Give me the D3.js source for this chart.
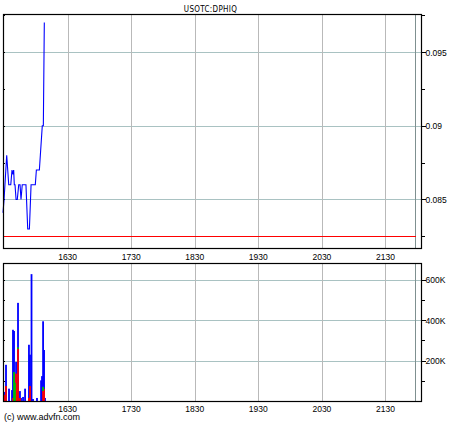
<!DOCTYPE html>
<html>
<head>
<meta charset="utf-8">
<script src="https://cdn.jsdelivr.net/npm/d3@7"></script>
<style>
  body { margin: 0; background: #fff; }
  text { font-family: "Liberation Sans", Arial, sans-serif; fill: #000; }
</style>
</head>
<body>
<div id="chart"></div>
<script>
// chart data
const symbol = "USOTC:DPHIQ";
const prevClose = 0.0825;

const priceTimes = ["15:29:00","15:30:00","15:32:30","15:34:25","15:36:20","15:37:30","15:38:25",
  "15:39:05","15:39:40","15:40:20","15:41:20","15:42:30","15:43:50","15:45:05","15:46:00",
  "15:47:10","15:50:40","15:52:20","15:53:55","15:55:30","15:59:30","16:00:30","16:03:20",
  "16:06:05","16:07:05","16:08:00"];
const prices = [0.0841,0.085,0.088,0.086,0.086,0.087,0.0867,0.087,0.086,0.086,0.085,0.085,0.086,
  0.086,0.085,0.086,0.086,0.083,0.083,0.086,0.086,0.087,0.087,0.090,0.090,0.097];

const volTimes = ["15:30:00","15:31:50","15:34:40","15:37:30","15:38:25","15:39:25","15:40:20",
  "15:41:20","15:42:10","15:43:10","15:45:00","15:46:00","15:47:55","15:49:50","15:53:30",
  "15:54:30","15:55:55","15:57:20","16:01:05","16:04:55","16:05:50","16:06:50","16:07:45","16:08:40"];
const volTotal = [45000,179000,61000,54000,352000,346000,20000,193000,118000,485000,49000,15000,
  20000,61000,278000,229000,627000,10000,15000,102000,123000,394000,252000,15000];
const volSell = [30000,74000,0,0,15000,0,0,135000,60000,257000,15000,0,0,0,15000,74000,0,0,0,0,0,50000,60000,0];
const volBuy = [0,0,0,0,0,143000,90000,0,0,8000,0,0,0,0,0,0,0,0,0,0,0,20000,0,0];

const hourTicks = ["16:30","17:30","18:30","19:30","20:30","21:30"];
const sessionEnd = "21:57:30";
const priceTicks = [0.085, 0.09, 0.095];
const priceMinor = [0.0825, 0.0875, 0.0925, 0.0975];
const volTicks = [200000, 400000, 600000];
const volMinor = [100000, 300000, 500000];

// layout
const W = 460, H = 430;
const left = 3, right = 422;
const top1 = 14, bot1 = 248;
const top2 = 263, bot2 = 401;

const parseT = d3.timeParse("%H:%M:%S");
const parseHM = d3.timeParse("%H:%M");

const x = d3.scaleTime()
  .domain([parseT("15:29:00"), parseT("22:04:30")])
  .range([left, right]);
const yP = d3.scaleLinear().domain([0.08171, 0.09758]).range([bot1, top1]);
const yV = d3.scaleLinear().domain([0, 682000]).range([bot2, top2]);

const svg = d3.select("#chart").append("svg")
  .attr("width", W).attr("height", H);

const hourDates = hourTicks.map(parseHM);
const fmtHour = d3.timeFormat("%H%M");

function panel(top, bot, y, major, minor, fmt) {
  const g = svg.append("g");
  // horizontal grid
  g.selectAll(".hg").data(major).join("line")
    .attr("x1", left).attr("x2", right)
    .attr("y1", d => Math.round(y(d)) + 0.5).attr("y2", d => Math.round(y(d)) + 0.5)
    .attr("stroke", "#a9c2c2").attr("stroke-width", 1);
  // vertical grid
  g.selectAll(".vg").data(hourDates).join("line")
    .attr("x1", d => Math.round(x(d)) + 0.5).attr("x2", d => Math.round(x(d)) + 0.5)
    .attr("y1", top).attr("y2", bot)
    .attr("stroke", "#b9b9b9").attr("stroke-width", 1);
  // session end line
  const xe = Math.round(x(parseT(sessionEnd))) + 0.5;
  g.append("line").attr("x1", xe).attr("x2", xe).attr("y1", top).attr("y2", bot)
    .attr("stroke", "#7f9090").attr("stroke-width", 1);
  // right axis
  const ax = g.append("g").attr("transform", `translate(${right},0)`);
  ax.selectAll(".mj").data(major).join("line")
    .attr("x1", 0).attr("x2", 4)
    .attr("y1", d => Math.round(y(d)) + 0.5).attr("y2", d => Math.round(y(d)) + 0.5)
    .attr("stroke", "#000");
  ax.selectAll(".mn").data(minor.filter(d => y(d) > top && y(d) < bot)).join("line")
    .attr("x1", 0).attr("x2", 3)
    .attr("y1", d => Math.round(y(d)) + 0.5).attr("y2", d => Math.round(y(d)) + 0.5)
    .attr("stroke", "#000");
  ax.selectAll("text").data(major).join("text")
    .attr("x", 3.5).attr("y", d => y(d) + 3.5)
    .attr("font-size", "8.5px")
    .text(fmt);
  // left inner ticks
  g.selectAll(".lt").data(major.concat(minor).filter(d => y(d) > top && y(d) < bot)).join("line")
    .attr("x1", left).attr("x2", left + 2)
    .attr("y1", d => Math.round(y(d)) + 0.5).attr("y2", d => Math.round(y(d)) + 0.5)
    .attr("stroke", "#000");
  return g;
}

panel(top1, bot1, yP, priceTicks, priceMinor, d => d3.format("")(+d.toFixed(3)));
panel(top2, bot2, yV, volTicks, volMinor, d => (d / 1000) + "K");

// previous close line
svg.append("line")
  .attr("x1", left).attr("x2", Math.round(x(parseT(sessionEnd))) + 1)
  .attr("y1", Math.round(yP(prevClose)) + 0.5).attr("y2", Math.round(yP(prevClose)) + 0.5)
  .attr("stroke", "#ff0000").attr("stroke-width", 1);

// price line
const line = d3.line()
  .x((d, i) => x(parseT(priceTimes[i])))
  .y(d => yP(d));
svg.append("path")
  .datum(prices)
  .attr("d", line)
  .attr("fill", "none")
  .attr("stroke", "#0000ff")
  .attr("stroke-width", 1.1);

// volume bars
const bw = 1.8;
const vols = volTimes.map((t, i) => ({ t: parseT(t), total: volTotal[i], sell: volSell[i], buy: volBuy[i] }));
svg.append("g").selectAll("rect").data(vols).join("rect")
  .attr("x", d => x(d.t) - bw / 2).attr("width", bw)
  .attr("y", d => yV(d.total)).attr("height", d => bot2 - yV(d.total))
  .attr("fill", "#0000ff");
svg.append("g").selectAll("rect").data(vols.filter(d => d.sell > 0)).join("rect")
  .attr("x", d => x(d.t) - bw / 2).attr("width", bw)
  .attr("y", d => yV(d.sell)).attr("height", d => bot2 - yV(d.sell))
  .attr("fill", "#ff0000");
svg.append("g").selectAll("rect").data(vols.filter(d => d.buy > 0)).join("rect")
  .attr("x", d => x(d.t) - bw / 2).attr("width", bw)
  .attr("y", d => yV(d.sell + d.buy)).attr("height", d => yV(d.sell) - yV(d.sell + d.buy))
  .attr("fill", "#00c000");

// frames
[[top1, bot1], [top2, bot2]].forEach(([t, b]) => {
  svg.append("rect")
    .attr("x", left + 0.5).attr("y", t + 0.5)
    .attr("width", right - left - 1).attr("height", b - t)
    .attr("fill", "none").attr("stroke", "#000").attr("stroke-width", 1.2);
});

// time labels
[259.5, 411.5].forEach(yy => {
  svg.append("g").selectAll("text").data(hourDates).join("text")
    .attr("x", d => x(d)).attr("y", yy)
    .attr("text-anchor", "middle")
    .attr("font-size", "8.5px")
    .text(fmtHour);
});

// title
svg.append("text")
  .attr("x", 210.5).attr("y", 11.5)
  .attr("text-anchor", "middle")
  .attr("font-size", "8px")
  .style("font-family", "'Liberation Sans Narrow', 'DejaVu Sans Condensed', sans-serif")
  .attr("letter-spacing", "0.3px")
  .text(symbol);

// copyright
svg.append("text")
  .attr("x", 4).attr("y", 420)
  .attr("font-size", "9px")
  .text("(c) www.advfn.com");
</script>
</body>
</html>
